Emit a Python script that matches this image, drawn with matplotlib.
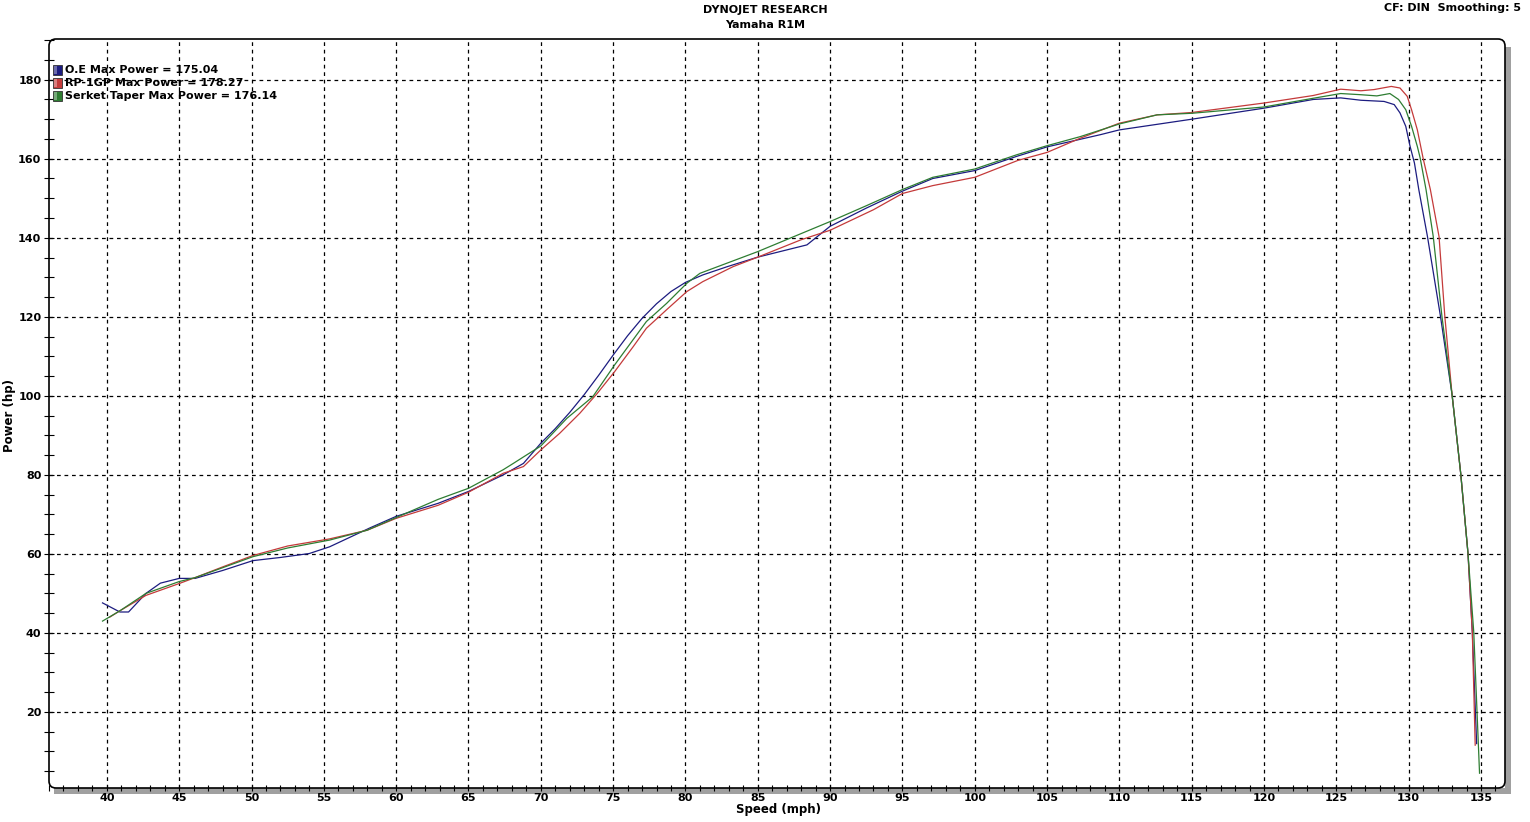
import numpy as np
import matplotlib
matplotlib.use('Agg')
import matplotlib.pyplot as plt
from matplotlib.patches import Rectangle, FancyBboxPatch
from matplotlib.transforms import IdentityTransform
from matplotlib.ticker import MultipleLocator

# Dyno run data (speed in mph, power in hp)
oe_mph = [39.7, 40.9, 41.5, 42.7, 43.7, 45.0, 46.1, 48.0, 50.1, 52.0, 54.0, 55.4, 58.2, 60.0,
          62.9, 65.0, 67.4, 68.8, 70.0, 71.0, 72.0, 73.0, 74.0, 75.0, 76.0, 77.0, 78.0, 79.0,
          80.0, 81.2, 82.9, 85.0, 88.4, 90.0, 92.5, 95.0, 97.1, 100.0, 102.9, 105.0, 108.7,
          110.0, 115.0, 120.0, 123.4, 125.3, 126.7, 128.3, 129.0, 129.4, 129.8, 130.1, 130.4,
          130.7, 131.3, 132.2, 133.0, 133.6, 134.1, 134.4, 134.7]
oe_hp = [47.6, 45.3, 45.3, 50.0, 52.6, 53.8, 53.8, 55.8, 58.3, 59.1, 60.1, 61.8, 66.6, 69.5,
         72.8, 75.8, 80.0, 82.9, 88.0, 91.7, 95.8, 100.3, 105.2, 110.3, 115.2, 119.6, 123.3, 126.4,
         128.7, 130.6, 132.7, 135.1, 138.2, 142.9, 147.5, 151.8, 155.0, 157.0, 160.6, 163.0, 166.1,
         167.3, 170.0, 172.8, 175.0, 175.4, 174.8, 174.5, 173.7, 171.6, 168.2, 163.1, 158.9,
         152.2, 140.3, 120.1, 100.3, 80.3, 60.2, 40.2, 12.0]

rp_mph = [40.2, 40.9, 42.7, 45.0, 46.1, 48.0, 50.1, 52.5, 55.4, 58.0, 60.0, 62.9, 65.0, 67.4,
          68.8, 70.0, 71.3, 72.7, 73.9, 75.1, 76.4, 77.3, 78.7, 80.1, 81.2, 83.3, 85.0, 88.0,
          90.0, 93.0, 95.0, 97.1, 100.0, 103.0, 105.0, 107.3, 110.0, 112.6, 115.0, 120.0, 123.4,
          125.3, 126.7, 127.6, 128.8, 129.4, 129.9, 130.2, 130.6, 131.0, 131.5, 132.1, 132.5,
          133.0, 133.6, 134.1, 134.4, 134.6]
rp_hp = [44.0, 45.6, 49.5, 52.5, 54.0, 56.7, 59.6, 62.0, 63.8, 66.0, 69.0, 72.3, 75.6, 80.4,
         82.1, 86.3, 90.5, 95.6, 100.6, 106.1, 112.5, 117.1, 121.8, 126.4, 128.9, 132.7, 135.1, 139.5,
         141.9, 147.1, 151.2, 153.2, 155.3, 159.6, 161.6, 165.2, 169.0, 171.1, 171.7, 174.1, 176.0,
         177.6, 177.2, 177.5, 178.3, 177.9, 175.8, 172.4, 167.3, 160.1, 152.2, 140.3, 120.1,
         100.3, 80.3, 60.2, 40.2, 11.6]

sk_mph = [39.7, 40.9, 42.7, 45.0, 46.1, 48.0, 50.1, 52.5, 55.4, 58.0, 60.0, 62.9, 65.0, 67.4,
          68.1, 69.0, 70.0, 71.8, 73.6, 75.1, 77.3, 78.7, 80.1, 81.0, 85.0, 90.0, 92.5, 95.0,
          97.1, 100.0, 102.9, 105.0, 107.3, 110.0, 112.6, 115.0, 120.0, 123.4, 125.3, 126.7,
          127.8, 128.7, 129.3, 129.8, 130.2, 130.6, 130.8, 131.2, 131.7, 132.3, 133.0, 133.6,
          134.1, 134.5, 134.9]
sk_hp = [43.0, 45.6, 50.0, 53.0, 54.0, 56.5, 59.3, 61.5, 63.5, 66.0, 69.2, 73.8, 76.6, 81.3,
         82.9, 85.0, 87.3, 94.3, 99.8, 107.8, 118.8, 123.4, 128.5, 131.0, 136.5, 144.1, 148.1, 152.2,
         155.3, 157.4, 161.0, 163.3, 165.6, 168.8, 171.1, 171.5, 173.1, 175.3, 176.5, 176.2,
         175.9, 176.5, 175.0, 172.4, 168.2, 163.1, 160.1, 152.2, 140.3, 120.1, 100.3, 80.3,
         60.2, 40.2, 4.5]

legend_labels = ['O.E Max Power = 175.04', 'RP-1GP Max Power = 178.27',
                 'Serket Taper Max Power = 176.14']
colors = ['#1c1c80', '#c43a3a', '#2e7d32']

W, H = 1530, 822
fig = plt.figure(figsize=(W / 100, H / 100), dpi=100)
fig.patch.set_facecolor('white')

L, R, T, B = 49, 1505, 39, 788
ax = fig.add_axes([L / W, 1 - B / H, (R - L) / W, (B - T) / H])
ax.set_facecolor('none')

for x, y, c in zip([oe_mph, rp_mph, sk_mph], [oe_hp, rp_hp, sk_hp], colors):
    ax.plot(x, y, color=c, lw=0.9, zorder=3)

ax.set_xlim(36.0, 136.66)
ax.set_ylim(0.76, 190.3)
ax.xaxis.set_major_locator(MultipleLocator(5))
ax.xaxis.set_minor_locator(MultipleLocator(1))
ax.yaxis.set_major_locator(MultipleLocator(20))
ax.yaxis.set_minor_locator(MultipleLocator(5))
ax.grid(which='major', color='black', linestyle=(0, (3, 3)), lw=0.9)
ax.tick_params(axis='x', which='both', direction='inout', length=5, width=0.8,
               labelsize=8, pad=1)
ax.tick_params(axis='y', which='both', direction='inout', length=7, width=0.8,
               labelsize=8, pad=2)
for lab in ax.get_xticklabels() + ax.get_yticklabels():
    lab.set_fontweight('bold')
for s in ax.spines.values():
    s.set_visible(False)

# shadow and rounded frame (pixel coords, origin bottom-left)
px = IdentityTransform()
fig.add_artist(Rectangle((L + 5, H - B - 6), R - L, 6, transform=px,
                         facecolor='#a0a0a0', edgecolor='none', zorder=0))
fig.add_artist(Rectangle((R, H - B - 6), 6, B - T - 2, transform=px,
                         facecolor='#a0a0a0', edgecolor='none', zorder=0))
fig.add_artist(FancyBboxPatch((L, H - B), R - L, B - T, transform=px,
                              boxstyle='round,pad=0,rounding_size=7',
                              facecolor='none', edgecolor='black', lw=1.2, zorder=5))

# legend
for i, (lab, c) in enumerate(zip(legend_labels, colors)):
    yc = 70 + i * 13
    fig.add_artist(Rectangle((53, H - yc - 5), 9, 10, transform=px,
                             facecolor=c, edgecolor='#333333', lw=0.6, zorder=6))
    fig.add_artist(Rectangle((54, H - yc - 4), 3, 8, transform=px,
                             facecolor='white', alpha=0.35, edgecolor='none', zorder=7))
    fig.text(65 / W, 1 - yc / H, lab, fontsize=8, fontweight='bold', va='center', ha='left')

fig.text(765 / W, 1 - 10 / H, 'DYNOJET RESEARCH', fontsize=8, fontweight='bold',
         ha='center', va='center')
fig.text(765 / W, 1 - 25 / H, 'Yamaha R1M', fontsize=8, fontweight='bold',
         ha='center', va='center')
fig.text(1521 / W, 1 - 8 / H, 'CF: DIN  Smoothing: 5', fontsize=8, fontweight='bold',
         ha='right', va='center')
fig.text(10 / W, 1 - 415 / H, 'Power (hp)', fontsize=8.5, fontweight='bold',
         ha='center', va='center', rotation=90)
fig.text(778 / W, 1 - 809 / H, 'Speed (mph)', fontsize=8.5, fontweight='bold',
         ha='center', va='center')

fig.savefig('out.png', dpi=100)
